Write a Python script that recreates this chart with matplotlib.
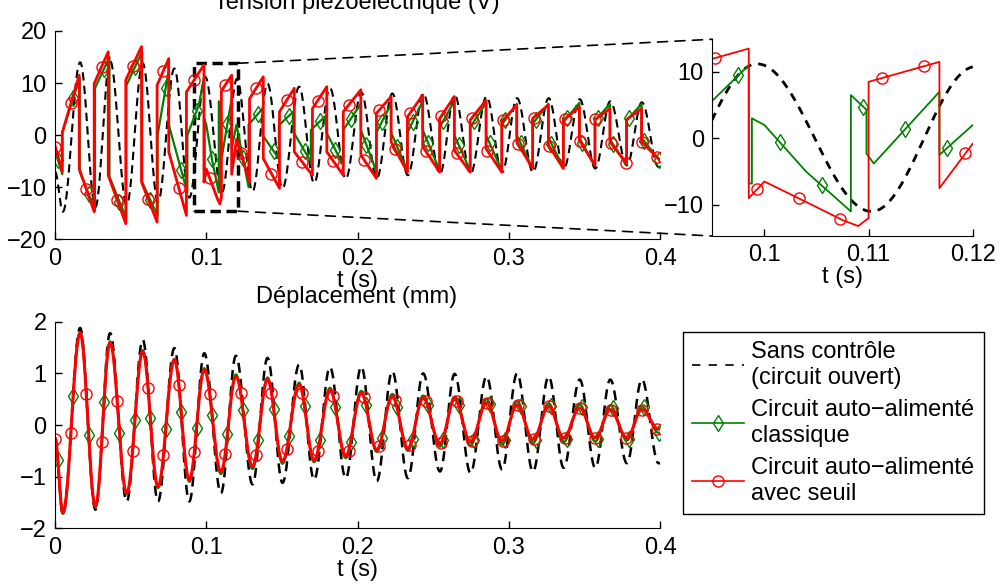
import numpy as np
import matplotlib.pyplot as plt
from matplotlib.lines import Line2D
from matplotlib.patches import Rectangle, ConnectionPatch

plt.rcParams['font.family'] = ['Liberation Sans', 'DejaVu Sans']
plt.rcParams['font.size'] = 17

GREEN = '#008000'

# extrema of the oscillation (s), first entry is the start of the record
t_ext = [0.0, 0.0052, 0.0166, 0.0267, 0.0364, 0.0474, 0.058, 0.0681, 0.0789, 0.0888,
         0.0987, 0.1097, 0.1196, 0.1306, 0.1405, 0.1504, 0.1614, 0.1713, 0.1818, 0.1922,
         0.2025, 0.2127, 0.223, 0.2333, 0.2434, 0.2545, 0.2642, 0.2747, 0.2853, 0.2956,
         0.3055, 0.316, 0.3264, 0.3363, 0.3469, 0.3572, 0.3671, 0.3781, 0.388, 0.399]
tv_ext = [0.0, 0.0052, 0.0166, 0.0267, 0.0364, 0.0474, 0.058, 0.0681, 0.0789, 0.0888,
          0.0993, 0.1103, 0.1203, 0.1306, 0.1405, 0.1504, 0.1614, 0.1713, 0.1818, 0.1922,
          0.2025, 0.2127, 0.223, 0.2333, 0.2434, 0.2545, 0.2642, 0.2747, 0.2853, 0.2956,
          0.3055, 0.316, 0.3264, 0.3363, 0.3469, 0.3572, 0.3671, 0.3781, 0.388, 0.399]

# open circuit voltage (V) at the extrema
v_oc = [-7.0, -14.7, 14.0, -13.8, 14.3, -13.3, 13.8, -12.8, 12.8, -12.0,
        11.2, -11.0, 10.8, -10.8, 9.9, -10.2, 9.3, -9.2, 9.0, -8.4,
        8.2, -8.3, 8.0, -7.7, 8.0, -7.4, 7.7, -7.4, 7.4, -7.1,
        7.1, -7.1, 7.1, -6.4, 6.9, -6.4, 6.5, -5.8, 6.3, -6.1]

# displacement (mm) at the extrema
u_oc = [-0.25, -1.72, 1.88, -1.64, 1.78, -1.48, 1.65, -1.48, 1.49, -1.48,
        1.39, -1.32, 1.34, -1.15, 1.3, -1.12, 1.17, -1.06, 1.12, -1.03,
        1.13, -1.09, 1.04, -1.03, 1.0, -0.9, 0.99, -0.93, 0.94, -0.86,
        1.0, -0.9, 0.94, -0.83, 0.88, -0.83, 0.88, -0.74, 0.88, -0.74]
u_cls = [-0.3, -1.72, 1.8, -1.6, 1.62, -1.35, 1.45, -1.22, 1.28, -1.1,
         1.1, -0.95, 0.98, -0.85, 0.92, -0.75, 0.82, -0.72, 0.72, -0.64,
         0.66, -0.52, 0.6, -0.5, 0.57, -0.42, 0.55, -0.4, 0.5, -0.38,
         0.46, -0.35, 0.42, -0.33, 0.4, -0.32, 0.38, -0.3, 0.36, -0.15]
u_thr = [-0.25, -1.7, 1.78, -1.57, 1.59, -1.32, 1.42, -1.19, 1.26, -1.06,
         1.07, -0.9, 0.94, -0.8, 0.88, -0.7, 0.78, -0.68, 0.68, -0.6,
         0.62, -0.48, 0.55, -0.45, 0.52, -0.36, 0.5, -0.33, 0.43, -0.31,
         0.39, -0.28, 0.36, -0.25, 0.33, -0.25, 0.3, -0.25, 0.3, -0.08]

# switched voltages: instants (s), value before and after the switch (V)
cls_t = [0.0, 0.0048, 0.0163, 0.0264, 0.0360, 0.0471, 0.0576, 0.0678, 0.0752, 0.0875,
         0.0951, 0.0985, 0.0988, 0.1000, 0.1040, 0.1083, 0.1098, 0.1105, 0.1168, 0.1200,
         0.1280, 0.1372, 0.1480, 0.1576, 0.1692, 0.1793, 0.1906, 0.2022, 0.2125, 0.2222,
         0.2330, 0.2431, 0.2543, 0.2640, 0.2745, 0.2850, 0.2954, 0.3053, 0.3158, 0.3262,
         0.3361, 0.3467, 0.3570, 0.3669, 0.3779, 0.3878, 0.4]
cls_pre = [-3.0, -7.5, 11.0, -14.5, 15.0, -16.0, 16.0, -15.5, 12.5, -11.0,
           5.8, 11.0, -6.8, 2.0, -5.0, -11.0, 4.3, -3.8, 7.0, 2.0,
           -10.0, 5.1, -4.5, 4.5, -5.1, 3.8, -5.8, 6.0, -7.0, 6.0,
           -6.8, 6.5, -6.8, 6.5, -6.8, 6.2, -6.8, 6.0, -6.4, 6.0,
           -6.2, 6.2, -6.0, 6.0, -5.8, 6.0, -5.0]
cls_post = [-3.0, 0.5, -7.0, 9.0, -8.0, 9.5, -9.0, 0.0, 2.0, 0.0,
            5.8, -6.8, 3.0, 2.0, -5.0, 6.5, -2.3, -3.8, -2.5, 2.0,
            2.0, 0.0, 1.9, 0.6, 1.0, 0.6, 1.0, 1.0, 0.5, 0.5,
            0.5, 1.0, 1.5, 0.0, 1.5, 0.0, 2.0, 0.0, 2.2, -0.5,
            2.5, -0.5, 2.8, -0.8, 2.8, -0.5, -5.0]

thr_t = [0.0, 0.0048, 0.0160, 0.0259, 0.0352, 0.0468, 0.0572, 0.0675, 0.0752, 0.0869,
         0.0951, 0.0985, 0.1000, 0.1030, 0.1075, 0.1090, 0.1100, 0.1168, 0.1200, 0.1286,
         0.1377, 0.1484, 0.1582, 0.1702, 0.1797, 0.1906, 0.2022, 0.2125, 0.2222, 0.2330,
         0.2431, 0.2543, 0.2640, 0.2745, 0.2850, 0.2954, 0.3053, 0.3158, 0.3262, 0.3361,
         0.3467, 0.3570, 0.3669, 0.3779, 0.3878, 0.4]
thr_pre = [-2.0, -7.0, 11.5, -14.7, 16.0, -17.0, 17.0, -16.7, 14.7, -15.4,
           12.0, 13.5, -6.5, -8.8, -12.3, -13.2, -12.0, 11.5, -0.8, -9.0,
           11.2, -10.2, 9.0, -7.7, 9.3, -7.7, 8.7, -8.3, 7.4, -7.1,
           7.7, -7.1, 7.4, -7.1, 6.7, -7.1, 5.8, -6.4, 5.8, -6.4,
           5.4, -5.8, 5.1, -5.4, 5.1, -4.8]
thr_post = [-2.0, 0.5, -6.4, 9.9, -7.7, 10.6, -9.0, 9.6, -3.2, 8.3,
            12.0, -9.0, -6.5, -8.8, -12.3, -13.2, 8.5, -7.5, -0.8, 7.0,
            -4.5, 4.5, -3.2, 5.1, -3.2, 4.5, -3.8, 4.2, -1.3, 3.5,
            -2.2, 3.2, -2.9, 2.9, -2.6, 2.6, -1.3, 3.2, -1.9, 2.9,
            -1.0, 3.0, -1.3, 3.0, -1.3, -4.8]

labels = ['Sans contrôle\n(circuit ouvert)',
          'Circuit auto\u2212alimenté\nclassique',
          'Circuit auto\u2212alimenté\navec seuil']


def smooth(tk, vk, t):
    # half cosine between two successive extrema
    tk = np.asarray(tk)
    vk = np.asarray(vk)
    i = np.clip(np.searchsorted(tk, t, side='right') - 1, 0, len(tk) - 2)
    s = np.clip((t - tk[i]) / (tk[i + 1] - tk[i]), 0, 1)
    return vk[i] + (vk[i + 1] - vk[i]) * (1 - np.cos(np.pi * s)) / 2


def steps(ts, pre, post):
    return np.repeat(ts, 2), np.column_stack([pre, post]).ravel()


def style(ax):
    for s in ['top', 'right']:
        ax.spines[s].set_visible(False)
    ax.tick_params(direction='in', length=5, width=1, labelsize=17, pad=6)


tt = np.linspace(0, 0.4, 8001)
cls_x, cls_y = steps(cls_t, cls_pre, cls_post)
thr_x, thr_y = steps(thr_t, thr_pre, thr_post)

fig = plt.figure(figsize=(10.02, 5.88), dpi=100)
ax1 = fig.add_axes([0.0549, 0.593, 0.6038, 0.3543])
axi = fig.add_axes([0.7109, 0.5986, 0.2599, 0.3346])
ax2 = fig.add_axes([0.0549, 0.1015, 0.6038, 0.3514])

mk = dict(mfc='none', ms=8, mew=1.0, ls='none')

# voltage, full record
tr = np.arange(0.0003, 0.4, 0.0102)
tg = np.arange(0.0018, 0.4, 0.0102)
ax1.plot(tt, smooth(tv_ext, v_oc, tt), color='k', ls='--', dashes=(4, 2.5), lw=1.5)
ax1.plot(cls_x, cls_y, color=GREEN, lw=1.6)
ax1.plot(tg, np.interp(tg, cls_x, cls_y), marker='d', color=GREEN, **mk)
ax1.plot(thr_x, thr_y, color='r', lw=2.0)
ax1.plot(tr, np.interp(tr, thr_x, thr_y), marker='o', color='r', **mk)
ax1.add_patch(Rectangle((0.092, -14.6), 0.029, 28.4, fill=False, ec='k',
                        lw=2.5, ls=(0, (3, 1.6))))
ax1.set_xlim(0, 0.4)
ax1.set_ylim(-20, 20)
ax1.set_xticks([0, 0.1, 0.2, 0.3, 0.4])
ax1.set_xticklabels(['0', '0.1', '0.2', '0.3', '0.4'])
ax1.set_yticks([-20, -10, 0, 10, 20])
ax1.set_xlabel('t (s)', labelpad=0)
style(ax1)

# voltage, zoom
tri = np.arange(0.0953, 0.12, 0.004)
tgi = np.arange(0.0975, 0.12, 0.004)
axi.plot(tt, smooth(tv_ext, v_oc, tt), color='k', ls='--', dashes=(3, 2.5), lw=2.0)
axi.plot(cls_x, cls_y, color=GREEN, lw=1.3)
axi.plot(tgi, np.interp(tgi, cls_x, cls_y), marker='d', color=GREEN, **mk)
axi.plot(thr_x, thr_y, color='r', lw=1.3)
axi.plot(tri, np.interp(tri, thr_x, thr_y), marker='o', color='r', **mk)
axi.set_xlim(0.095, 0.12)
axi.set_ylim(-14.7, 14.9)
axi.set_xticks([0.1, 0.11, 0.12])
axi.set_xticklabels(['0.1', '0.11', '0.12'])
axi.set_yticks([-10, 0, 10])
axi.set_xlabel('t (s)', labelpad=0)
style(axi)

for xa, ya, xb, yb in [(0.121, 13.8, 0, 1), (0.121, -14.6, 0, 0)]:
    con = ConnectionPatch(xyA=(xa, ya), coordsA=ax1.transData,
                          xyB=(xb, yb), coordsB=axi.transAxes,
                          color='k', lw=1.2, ls=(0, (6, 4.5)))
    fig.add_artist(con)

# displacement
ax2.plot(tt, smooth(t_ext, u_oc, tt), color='k', ls='--', dashes=(4, 2.5), lw=1.8)
ax2.plot(tt, smooth(t_ext, u_cls, tt), color=GREEN, lw=1.6)
ax2.plot(tg, smooth(t_ext, u_cls, tg), marker='d', color=GREEN, **mk)
ax2.plot(tt, smooth(t_ext, u_thr, tt), color='r', lw=2.2)
ax2.plot(tr, smooth(t_ext, u_thr, tr), marker='o', color='r', **mk)
ax2.set_xlim(0, 0.4)
ax2.set_ylim(-2, 2)
ax2.set_xticks([0, 0.1, 0.2, 0.3, 0.4])
ax2.set_xticklabels(['0', '0.1', '0.2', '0.3', '0.4'])
ax2.set_yticks([-2, -1, 0, 1, 2])
ax2.set_xlabel('t (s)', labelpad=0)
style(ax2)

# the first title runs off the top of the figure, as in the original export
fig.text(357 / 1002, 1 - 9 / 588, 'Tension piézoélectrique (V)', ha='center', va='baseline')
fig.text(357 / 1002, 1 - 303 / 588, 'Déplacement (mm)', ha='center', va='baseline')

handles = [Line2D([], [], color='k', ls='--', dashes=(5, 5), lw=1.2),
           Line2D([], [], color=GREEN, marker='d', mfc='none', ms=8, lw=1.2),
           Line2D([], [], color='r', marker='o', mfc='none', ms=8, lw=1.2)]
leg = fig.legend(handles, labels, loc='upper left', bbox_to_anchor=(683 / 1002, 1 - 332 / 588),
                 fancybox=False, edgecolor='k', framealpha=1, fontsize=17,
                 borderpad=0.4, handlelength=2.2, handletextpad=0.3, labelspacing=0.45,
                 borderaxespad=0)
leg.get_frame().set_linewidth(1.0)

fig.savefig('out.png', dpi=100)
